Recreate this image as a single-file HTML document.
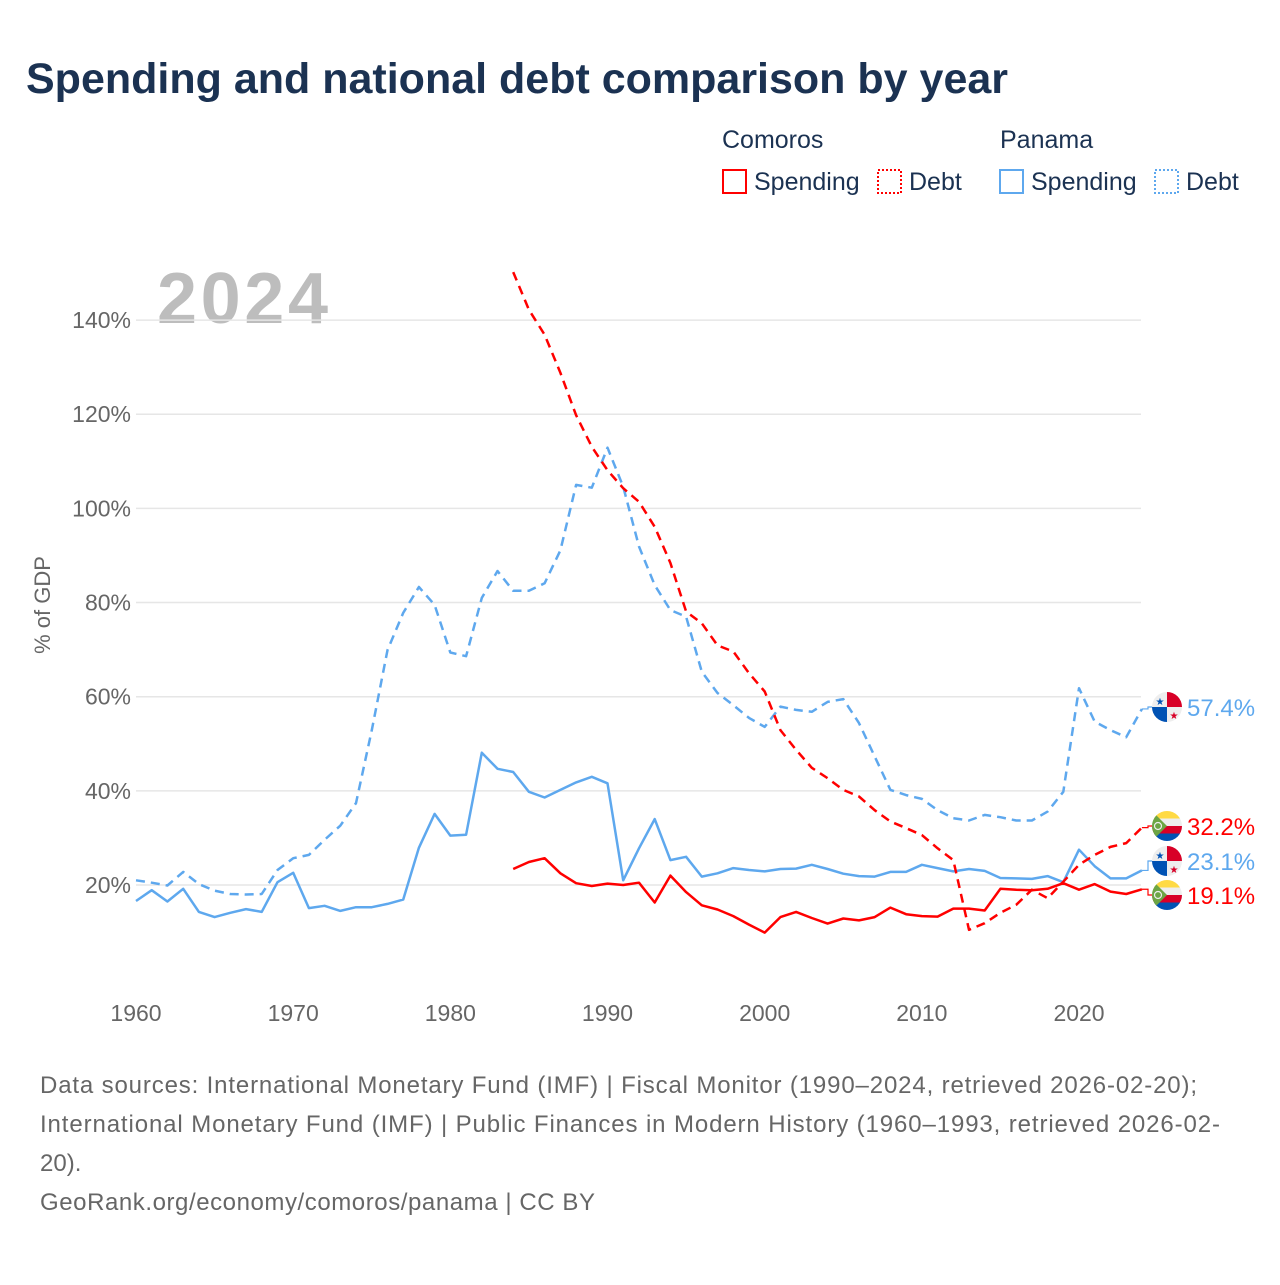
<!DOCTYPE html>
<html><head><meta charset="utf-8"><style>
body{margin:0;background:#fff;}
svg text{font-family:"Liberation Sans",sans-serif;}
</style></head><body>
<svg id="chart" width="1280" height="1280" viewBox="0 0 1280 1280" xmlns="http://www.w3.org/2000/svg">
<text x="26" y="93" font-size="43" font-weight="bold" fill="#1b3252" textLength="982">Spending and national debt comparison by year</text>
<g font-size="25" fill="#1b3252">
<text x="722" y="148">Comoros</text>
<text x="1000" y="148">Panama</text>
<g><rect x="723" y="170" width="23" height="23" fill="none" stroke="#f00" stroke-width="2"/><text x="754" y="190">Spending</text></g>
<g><rect x="878" y="170" width="23" height="23" fill="none" stroke="#f00" stroke-width="2" stroke-dasharray="2,2"/><text x="909" y="190">Debt</text></g>
<g><rect x="1000" y="170" width="23" height="23" fill="none" stroke="#5ea8ee" stroke-width="2"/><text x="1031" y="190">Spending</text></g>
<g><rect x="1155" y="170" width="23" height="23" fill="none" stroke="#5ea8ee" stroke-width="2" stroke-dasharray="2,2"/><text x="1186" y="190">Debt</text></g>
</g>
<text x="157" y="323" font-size="72" font-weight="bold" fill="#bdbdbd" textLength="171">2024</text>
<text transform="translate(50,605) rotate(-90)" text-anchor="middle" font-size="22" fill="#666">% of GDP</text>
<g id="grid"></g><g id="yticks"></g><g id="xticks"></g><g id="series"></g><g id="endlabels"></g>
<g font-size="24" fill="#666">
<text x="40" y="1093" textLength="1157">Data sources: International Monetary Fund (IMF) | Fiscal Monitor (1990–2024, retrieved 2026-02-20);</text>
<text x="40" y="1132" textLength="1180">International Monetary Fund (IMF) | Public Finances in Modern History (1960–1993, retrieved 2026-02-</text>
<text x="40" y="1171">20).</text>
<text x="40" y="1210" textLength="555">GeoRank.org/economy/comoros/panama | CC BY</text>
</g>
</svg>
<script>
const yTicks=[20,40,60,80,100,120,140];
const xTicks=[1960,1970,1980,1990,2000,2010,2020];
const panamaYears0=1960;
const comorosYears0=1984;
const panamaSpending=[16.6,18.9,16.5,19.2,14.3,13.2,14.1,14.9,14.3,20.6,22.6,15.1,15.6,14.5,15.3,15.3,16.0,16.9,27.9,35.1,30.5,30.7,48.1,44.7,44.0,39.8,38.6,40.2,41.8,43.0,41.6,21.0,27.8,34.0,25.3,26.0,21.8,22.5,23.6,23.2,22.9,23.4,23.5,24.3,23.4,22.4,21.9,21.8,22.8,22.8,24.3,23.6,22.9,23.4,23.0,21.5,21.4,21.3,21.9,20.6,27.5,24.0,21.4,21.4,23.1];
const panamaDebt=[21.0,20.5,19.9,22.8,20.2,18.8,18.1,18.0,18.1,23.2,25.7,26.4,29.6,32.6,37.4,52.9,69.9,77.8,83.3,79.5,69.4,68.6,81.0,86.7,82.5,82.5,84.1,91.1,105.0,104.4,112.9,104.6,91.9,83.7,78.4,77.0,65.3,60.8,58.2,55.5,53.6,57.9,57.2,56.8,58.9,59.5,54.4,47.3,40.2,39.1,38.3,35.9,34.2,33.7,34.9,34.4,33.7,33.7,35.6,39.8,61.8,54.7,52.9,51.4,57.4];
const comorosSpending=[23.4,24.9,25.7,22.5,20.4,19.8,20.3,20.0,20.5,16.3,22.0,18.5,15.7,14.8,13.4,11.6,9.9,13.2,14.3,13.0,11.8,12.9,12.5,13.2,15.2,13.8,13.4,13.3,15.0,15.0,14.6,19.2,19.0,18.9,19.2,20.4,19.0,20.2,18.6,18.1,19.1];
const comorosDebt=[150.2,142.2,136.9,128.8,119.8,113.1,108.1,104.3,101.4,96.1,88.4,78.1,75.6,70.9,69.6,65.0,61.1,52.9,48.7,44.9,42.7,40.2,38.8,35.9,33.5,32.1,30.6,27.8,25.3,10.5,11.9,14.1,15.8,19.0,17.2,20.7,24.3,26.4,28.1,28.9,32.2];
const endLabels=["57.4%","32.2%","23.1%","19.1%"];

const NS="http://www.w3.org/2000/svg";
const X0=136,X1=1141.9,Y0=979.2,PX=4.708;
const xs=y=>X0+(y-1960)*(X1-X0)/64;
const ys=v=>Y0-v*PX;
function mk(t,a,p){const e=document.createElementNS(NS,t);for(const k in a)e.setAttribute(k,a[k]);p.appendChild(e);return e;}
const grid=document.getElementById('grid'),yt=document.getElementById('yticks'),xt=document.getElementById('xticks');
yTicks.forEach(v=>{
 const l=mk('line',{x1:136,x2:1141,y1:ys(v),y2:ys(v),stroke:'#e6e6e6','stroke-width':1.5},grid);
 
 
 const t=mk('text',{x:131,y:ys(v)+8,'text-anchor':'end','font-size':23,fill:'#666'},yt);
 t.textContent=v+'%';
 
 
});
xTicks.forEach(v=>{
 const t=mk('text',{x:xs(v),y:1021,'text-anchor':'middle','font-size':23,fill:'#666'},xt);
 t.textContent=v;
 
 
});
const S=document.getElementById('series');
function line(data,y0,color,dash,name){
 const d=data.map((v,i)=>(i?'L':'M')+xs(y0+i).toFixed(1)+','+ys(v).toFixed(1)).join('');
 const p=mk('path',{d:d,fill:'none',stroke:color,'stroke-width':2.5,'stroke-linejoin':'round'},S);
 if(dash)p.setAttribute('stroke-dasharray','9,6');
 
 
}
const RED='#ff0000',BLUE='#5ea8ee';
line(panamaSpending,panamaYears0,BLUE,false,'panama-spending-line');
line(panamaDebt,panamaYears0,BLUE,true,'panama-debt-line');
line(comorosSpending,comorosYears0,RED,false,'comoros-spending-line');
line(comorosDebt,comorosYears0,RED,true,'comoros-debt-line');

const E=document.getElementById('endlabels');
const ends=[
 {v:panamaDebt[panamaDebt.length-1],ly:707,c:BLUE,f:'panama',n:'panama-debt'},
 {v:comorosDebt[comorosDebt.length-1],ly:826,c:RED,f:'comoros',n:'comoros-debt'},
 {v:panamaSpending[panamaSpending.length-1],ly:861,c:BLUE,f:'panama',n:'panama-spending'},
 {v:comorosSpending[comorosSpending.length-1],ly:895,c:RED,f:'comoros',n:'comoros-spending'}];
ends.forEach((o,i)=>{
 const g=mk('g',{},E);
 
 
 mk('path',{d:`M${X1},${ys(o.v)}H1148V${o.ly}H1153`,fill:'none',stroke:o.c,'stroke-width':1.2},g);
 const cx=1167,cy=o.ly,r=15;
 const cp='cp'+i;
 const defs=mk('defs',{},g);
 const clip=mk('clipPath',{id:cp},defs);
 mk('circle',{cx:cx,cy:cy,r:r},clip);
 const fg=mk('g',{'clip-path':`url(#${cp})`},g);
 if(o.f==='panama'){
  mk('rect',{x:cx-r,y:cy-r,width:2*r,height:2*r,fill:'#eee'},fg);
  mk('rect',{x:cx,y:cy-r,width:r,height:r,fill:'#d80027'},fg);
  mk('rect',{x:cx-r,y:cy,width:r,height:r,fill:'#0052b4'},fg);
  const s1=mk('text',{x:cx-7,y:cy-2,'text-anchor':'middle','font-size':10,fill:'#0052b4'},fg);s1.textContent='★';
  const s2=mk('text',{x:cx+7,y:cy+12,'text-anchor':'middle','font-size':10,fill:'#d80027'},fg);s2.textContent='★';
 }else{
  const cols=['#ffda44','#eeeeee','#d80027','#0052b4'];
  cols.forEach((c,k)=>mk('rect',{x:cx-r,y:cy-r+k*7.5,width:2*r,height:7.6,fill:c},fg));
  mk('path',{d:`M${cx-r},${cy-r}L${cx},${cy}L${cx-r},${cy+r}Z`,fill:'#6da544'},fg);
  mk('circle',{cx:cx-9,cy:cy,r:3.5,fill:'none',stroke:'#eee','stroke-width':1.2},fg);
 }
 const t=mk('text',{x:1187,y:o.ly+9,'font-size':24,fill:o.c},g);
 t.textContent=endLabels[i];
});
</script>
</body></html>
